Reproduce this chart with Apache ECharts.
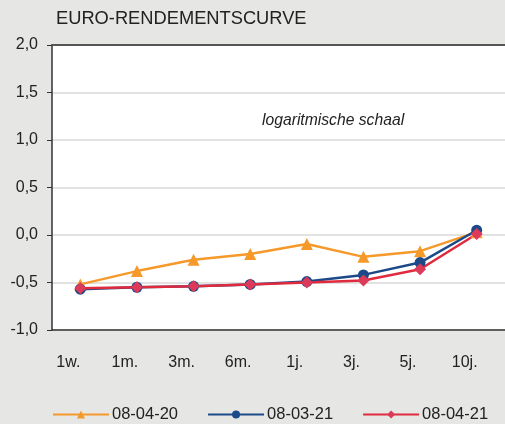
<!DOCTYPE html>
<html><head><meta charset="utf-8">
<script src="https://cdn.jsdelivr.net/npm/echarts@6/dist/echarts.min.js"></script>
<style>html,body{margin:0;padding:0;background:#e6e6e5;}#c{width:505px;height:424px;}</style>
</head><body><div id="c"></div>
<script>
const categories = ['1w.', '1m.', '3m.', '6m.', '1j.', '3j.', '5j.', '10j.'];
const seriesNames = ['08-04-20', '08-03-21', '08-04-21'];
const s1 = [-0.52, -0.38, -0.26, -0.20, -0.095, -0.23, -0.17, 0.03];
const s2 = [-0.57, -0.55, -0.54, -0.52, -0.49, -0.42, -0.29, 0.05];
const s3 = [-0.56, -0.55, -0.54, -0.52, -0.50, -0.48, -0.36, 0.01];
const yTicks = [-1.0, -0.5, 0.0, 0.5, 1.0, 1.5, 2.0];

const chart = echarts.init(document.getElementById('c'), null, {renderer: 'canvas'});
const font = 'Liberation Sans, Arial, sans-serif';
chart.setOption({
  backgroundColor: '#e6e6e5',
  animation: false,
  title: {
    text: 'EURO-RENDEMENTSCURVE', left: 51, top: 5,
    textStyle: {fontFamily: font, fontSize: 18.3, fontWeight: 'normal', color: '#222'}
  },
  graphic: [{
    type: 'text', left: 262, top: 113,
    style: {text: 'logaritmische schaal', font: 'italic 15.7px ' + font, fill: '#222'}
  }],
  grid: {left: 52, right: 0, top: 45, bottom: 94, show: true, backgroundColor: '#fff', borderWidth: 0},
  legend: {
    top: 401, left: 47, itemWidth: 56, itemHeight: 10, itemGap: 29,
    textStyle: {fontFamily: font, fontSize: 16.5, color: '#222', padding: [0, 0, 0, -2]},
    data: seriesNames
  },
  xAxis: [{
    type: 'category', data: categories, boundaryGap: true,
    axisLine: {show: true, onZero: false, lineStyle: {color: '#333', width: 1.5}},
    axisTick: {show: false},
    axisLabel: {fontFamily: font, fontSize: 16, color: '#222', margin: 25, padding: [0, 24, 0, 0]}
  }, {
    type: 'category', data: categories, position: 'top',
    axisLine: {show: true, onZero: false, lineStyle: {color: '#555', width: 2}},
    axisTick: {show: false}, axisLabel: {show: false}
  }],
  yAxis: {
    type: 'value', min: yTicks[0], max: yTicks[yTicks.length - 1], interval: 0.5,
    axisLine: {show: true, lineStyle: {color: '#333', width: 1.5}},
    axisTick: {show: true, length: 5, lineStyle: {color: '#333'}},
    splitLine: {show: true, lineStyle: {color: '#e2e2e2', width: 2}},
    axisLabel: {
      fontFamily: font, fontSize: 16, color: '#222', margin: 14,
      formatter: v => v.toFixed(1).replace('.', ',')
    }
  },
  series: [{
    name: seriesNames[0], type: 'line', data: s1,
    symbol: 'triangle', symbolSize: 12,
    itemStyle: {color: '#f59a2a'}, lineStyle: {color: '#f59a2a', width: 2.5}
  }, {
    name: seriesNames[1], type: 'line', data: s2,
    symbol: 'circle', symbolSize: 11,
    itemStyle: {color: '#1c4a88'}, lineStyle: {color: '#1c4a88', width: 2.5}
  }, {
    name: seriesNames[2], type: 'line', data: s3,
    symbol: 'diamond', symbolSize: 12,
    itemStyle: {color: '#dc3a58'}, lineStyle: {color: '#e02a3e', width: 2.5}
  }]
});
</script></body></html>
